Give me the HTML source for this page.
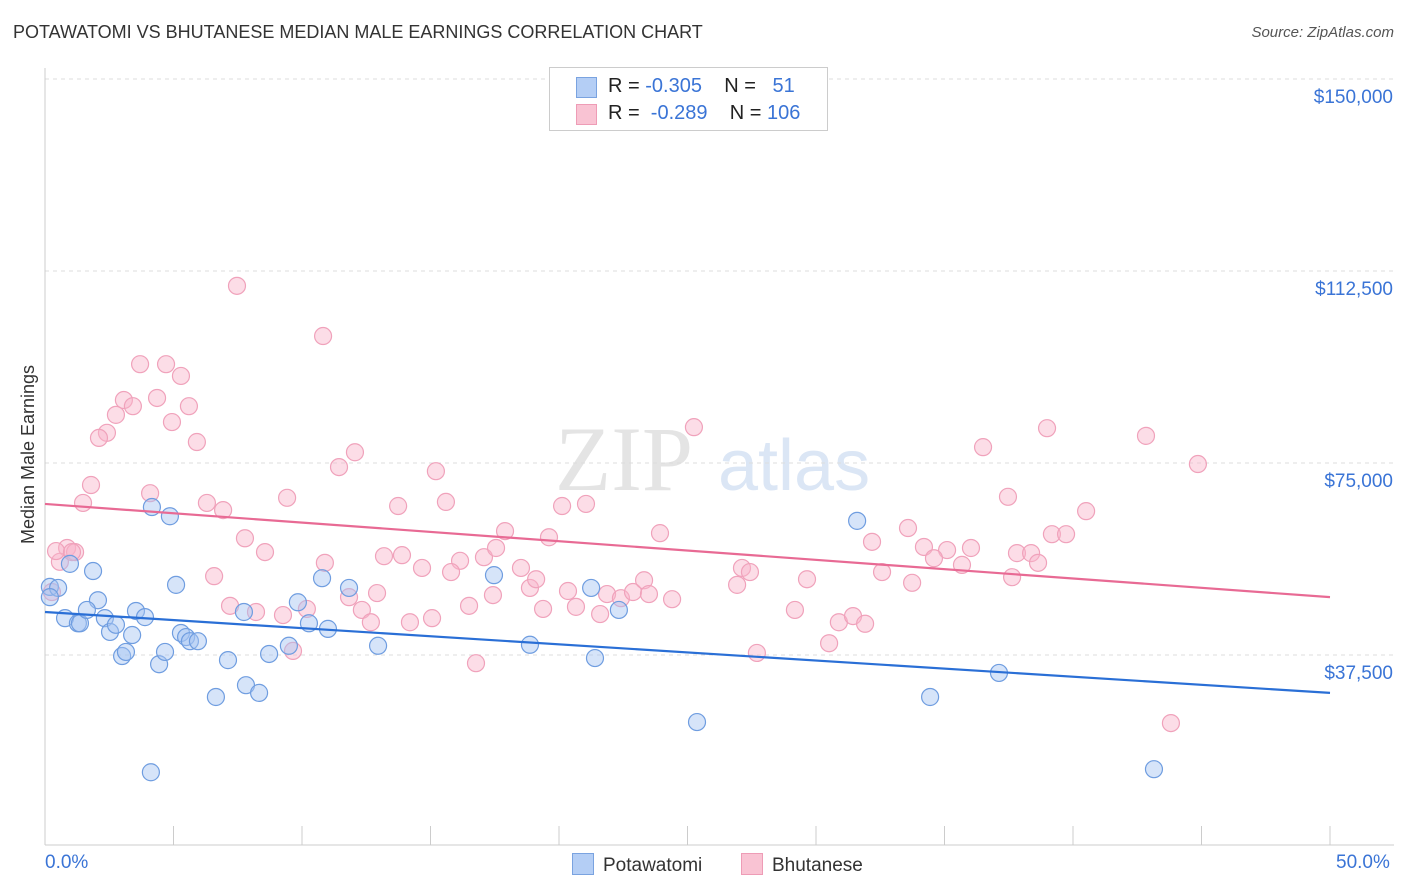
<!DOCTYPE html>
<html><head><meta charset="utf-8">
<style>
body{margin:0;background:#fff;font-family:"Liberation Sans",sans-serif;}
#wrap{position:relative;width:1406px;height:892px;overflow:hidden;}
.t{position:absolute;white-space:nowrap;}
</style></head>
<body>
<div id="wrap">
<div class="t" style="left:13px;top:22px;font-size:18px;color:#333;">POTAWATOMI VS BHUTANESE MEDIAN MALE EARNINGS CORRELATION CHART</div>
<div class="t" style="right:12px;top:24px;font-size:15px;color:#555;font-style:italic;">Source: ZipAtlas.com</div>
<svg id="chart" width="1406" height="892" style="position:absolute;left:0;top:0"></svg>
<div class="t" style="left:549px;top:67px;width:277px;height:62px;border:1px solid #ccc;background:#fff;font-size:20px;">
 <div style="position:absolute;left:26px;top:9px;width:19px;height:19px;background:#b4cef5;border:1px solid #7aa3e0"></div>
 <div style="position:absolute;left:58px;top:7px;color:#222">R = <span style="color:#3a74d6">-0.305</span>&nbsp;&nbsp;&nbsp; N = &nbsp;&nbsp;<span style="color:#3a74d6">51</span></div>
 <div style="position:absolute;left:26px;top:36px;width:19px;height:19px;background:#f9c3d3;border:1px solid #ee9cb6"></div>
 <div style="position:absolute;left:58px;top:34px;color:#222">R = &nbsp;<span style="color:#3a74d6">-0.289</span>&nbsp;&nbsp;&nbsp; N = <span style="color:#3a74d6">106</span></div>
</div>
<div class="t" style="left:-61px;top:444px;font-size:18px;color:#333;transform:rotate(-90deg);">Median Male Earnings</div>
<div class="t" style="left:45px;top:852px;font-size:19px;color:#3a74d6;">0.0%</div>
<div class="t" style="left:1336px;top:852px;font-size:19px;color:#3a74d6;">50.0%</div>
<div class="t" style="left:572px;top:853px;font-size:19px;color:#333;"><span style="display:inline-block;width:20px;height:20px;background:#b4cef5;border:1px solid #7aa3e0;vertical-align:-4px;margin-right:9px"></span>Potawatomi</div>
<div class="t" style="left:741px;top:853px;font-size:19px;color:#333;"><span style="display:inline-block;width:20px;height:20px;background:#f9c3d3;border:1px solid #ee9cb6;vertical-align:-4px;margin-right:9px"></span>Bhutanese</div>
</div>
<script>
const yTicks=[37500,75000,112500,150000];
const yTickLabels=["$37,500","$75,000","$112,500","$150,000"];
const blueX=[0.19,0.51,0.19,0.97,1.87,0.78,1.28,1.36,2.06,1.63,2.33,2.53,2.76,3.39,3.54,3.89,3.0,3.15,4.44,4.67,4.16,4.86,5.10,5.29,5.49,5.64,5.95,7.12,6.65,7.74,7.82,8.33,8.72,9.49,9.84,10.27,10.78,11.01,11.83,12.96,17.47,18.87,21.25,21.40,22.33,25.37,31.60,34.44,37.12,4.12,43.15];
const blueY=[50.8,50.6,48.8,55.3,53.9,44.7,43.7,43.7,48.2,46.3,44.7,42.0,43.4,41.4,46.1,44.9,37.3,38.1,35.7,38.1,66.4,64.6,51.2,41.8,41.0,40.2,40.2,36.5,29.3,45.9,31.6,30.1,37.7,39.3,47.8,43.7,52.5,42.6,50.6,39.3,53.1,39.5,50.6,36.9,46.3,24.4,63.7,29.3,34.0,14.6,15.2];
const pinkX=[7.47,10.82,3.70,4.71,5.29,3.07,4.36,3.42,5.60,2.76,4.94,2.41,2.10,5.91,12.06,11.44,15.21,1.79,4.09,1.48,6.30,6.93,9.42,13.74,15.60,20.12,21.05,25.25,38.99,42.84,36.50,44.86,37.47,40.51,7.78,8.56,10.89,13.19,13.89,14.67,16.15,17.08,17.90,17.55,19.61,23.93,33.58,32.18,34.20,35.10,36.03,37.82,38.37,39.18,39.73,34.59,35.68,38.64,37.63,6.58,0.86,1.17,0.58,7.20,8.21,9.26,10.19,11.83,12.33,12.92,12.68,14.20,15.06,15.80,16.50,17.43,18.52,18.87,19.11,19.38,20.35,20.66,21.60,21.87,22.41,22.88,23.31,23.50,24.40,27.12,27.43,26.93,29.65,29.18,30.89,31.44,31.91,32.57,33.74,30.51,27.70,9.65,16.77,43.81,0.43,0.27,1.05];
const pinkY=[109.6,99.8,94.3,94.3,92.0,87.3,87.7,86.1,86.1,84.4,83.0,80.9,79.9,79.1,77.1,74.2,73.4,70.7,69.1,67.2,67.2,65.8,68.2,66.6,67.4,66.6,67.0,82.0,81.8,80.3,78.1,74.8,68.4,65.6,60.3,57.6,55.5,56.8,57.0,54.5,55.9,56.6,61.7,58.4,60.5,61.3,62.3,59.6,58.6,58.0,58.4,57.4,57.4,61.1,61.1,56.4,55.1,55.5,52.7,52.9,58.4,57.6,55.7,47.1,45.9,45.3,46.5,48.8,46.3,49.6,43.9,43.9,44.7,53.7,47.1,49.2,54.5,50.6,52.3,46.5,50.0,46.9,45.5,49.4,48.6,49.8,52.1,49.4,48.4,54.5,53.7,51.2,52.3,46.3,43.9,45.1,43.6,53.7,51.6,39.8,37.9,38.3,35.9,24.2,57.8,49.8,57.6];
const blueTrend=[45.9,30.1];
const pinkTrend=[67.0,48.8];
const X0=45,X1=1330,Y0=847,PX_PER_K=192/37.5;
function sx(p){return X0+(p/50)*(X1-X0);}
function sy(k){return Y0-k*PX_PER_K;}
const svg=document.getElementById('chart');
const NS='http://www.w3.org/2000/svg';
function mk(tag,attrs){const e=document.createElementNS(NS,tag);for(const k in attrs)e.setAttribute(k,attrs[k]);svg.appendChild(e);return e;}
let wm=mk('text',{x:555,y:490,'font-size':92,'font-family':'Liberation Serif,serif',fill:'#e4e4e4'});wm.textContent='ZIP';


let wm2=mk('text',{x:718,y:490,'font-size':72,'font-family':'Liberation Sans,sans-serif',fill:'#dbe6f5'});wm2.textContent='atlas';


yTicks.forEach((v,i)=>{
 const y=sy(v/1000);
 const g=mk('line',{x1:X0,x2:1394,y1:y,y2:y,stroke:'#ddd','stroke-dasharray':'4,4'});
 
 
 const t=mk('text',{x:1393,y:y+24,'text-anchor':'end','font-size':19,fill:'#3a74d6','font-family':'Liberation Sans,sans-serif'});
 t.textContent=yTickLabels[i];
 
 
});
let ax=mk('line',{x1:X0,x2:1394,y1:845,y2:845,stroke:'#ccc'});


let ay=mk('line',{x1:X0,x2:X0,y1:68,y2:845,stroke:'#ccc'});


for(let i=0;i<=10;i++){
 const x=sx(i*5);
 const tk=mk('line',{x1:x,x2:x,y1:826,y2:845,stroke:'#ccc'});
 
 
}
function dots(xs,ys,fill,stroke,name){
 xs.forEach((p,i)=>{
  const c=mk('circle',{cx:sx(p),cy:sy(ys[i]),r:8.5,fill:fill,stroke:stroke,'stroke-width':1.2});
  
  
 });
}
dots(pinkX,pinkY,'rgba(248,180,202,0.45)','#f0a2bb','bhutanese-point');
dots(blueX,blueY,'rgba(165,195,242,0.45)','#6f9de0','potawatomi-point');
let bl=mk('line',{x1:sx(0),y1:sy(blueTrend[0]),x2:sx(50),y2:sy(blueTrend[1]),stroke:'#2a6fd6','stroke-width':2.2});


let pl=mk('line',{x1:sx(0),y1:sy(pinkTrend[0]),x2:sx(50),y2:sy(pinkTrend[1]),stroke:'#e86a94','stroke-width':2.2});


</script>
</body></html>
